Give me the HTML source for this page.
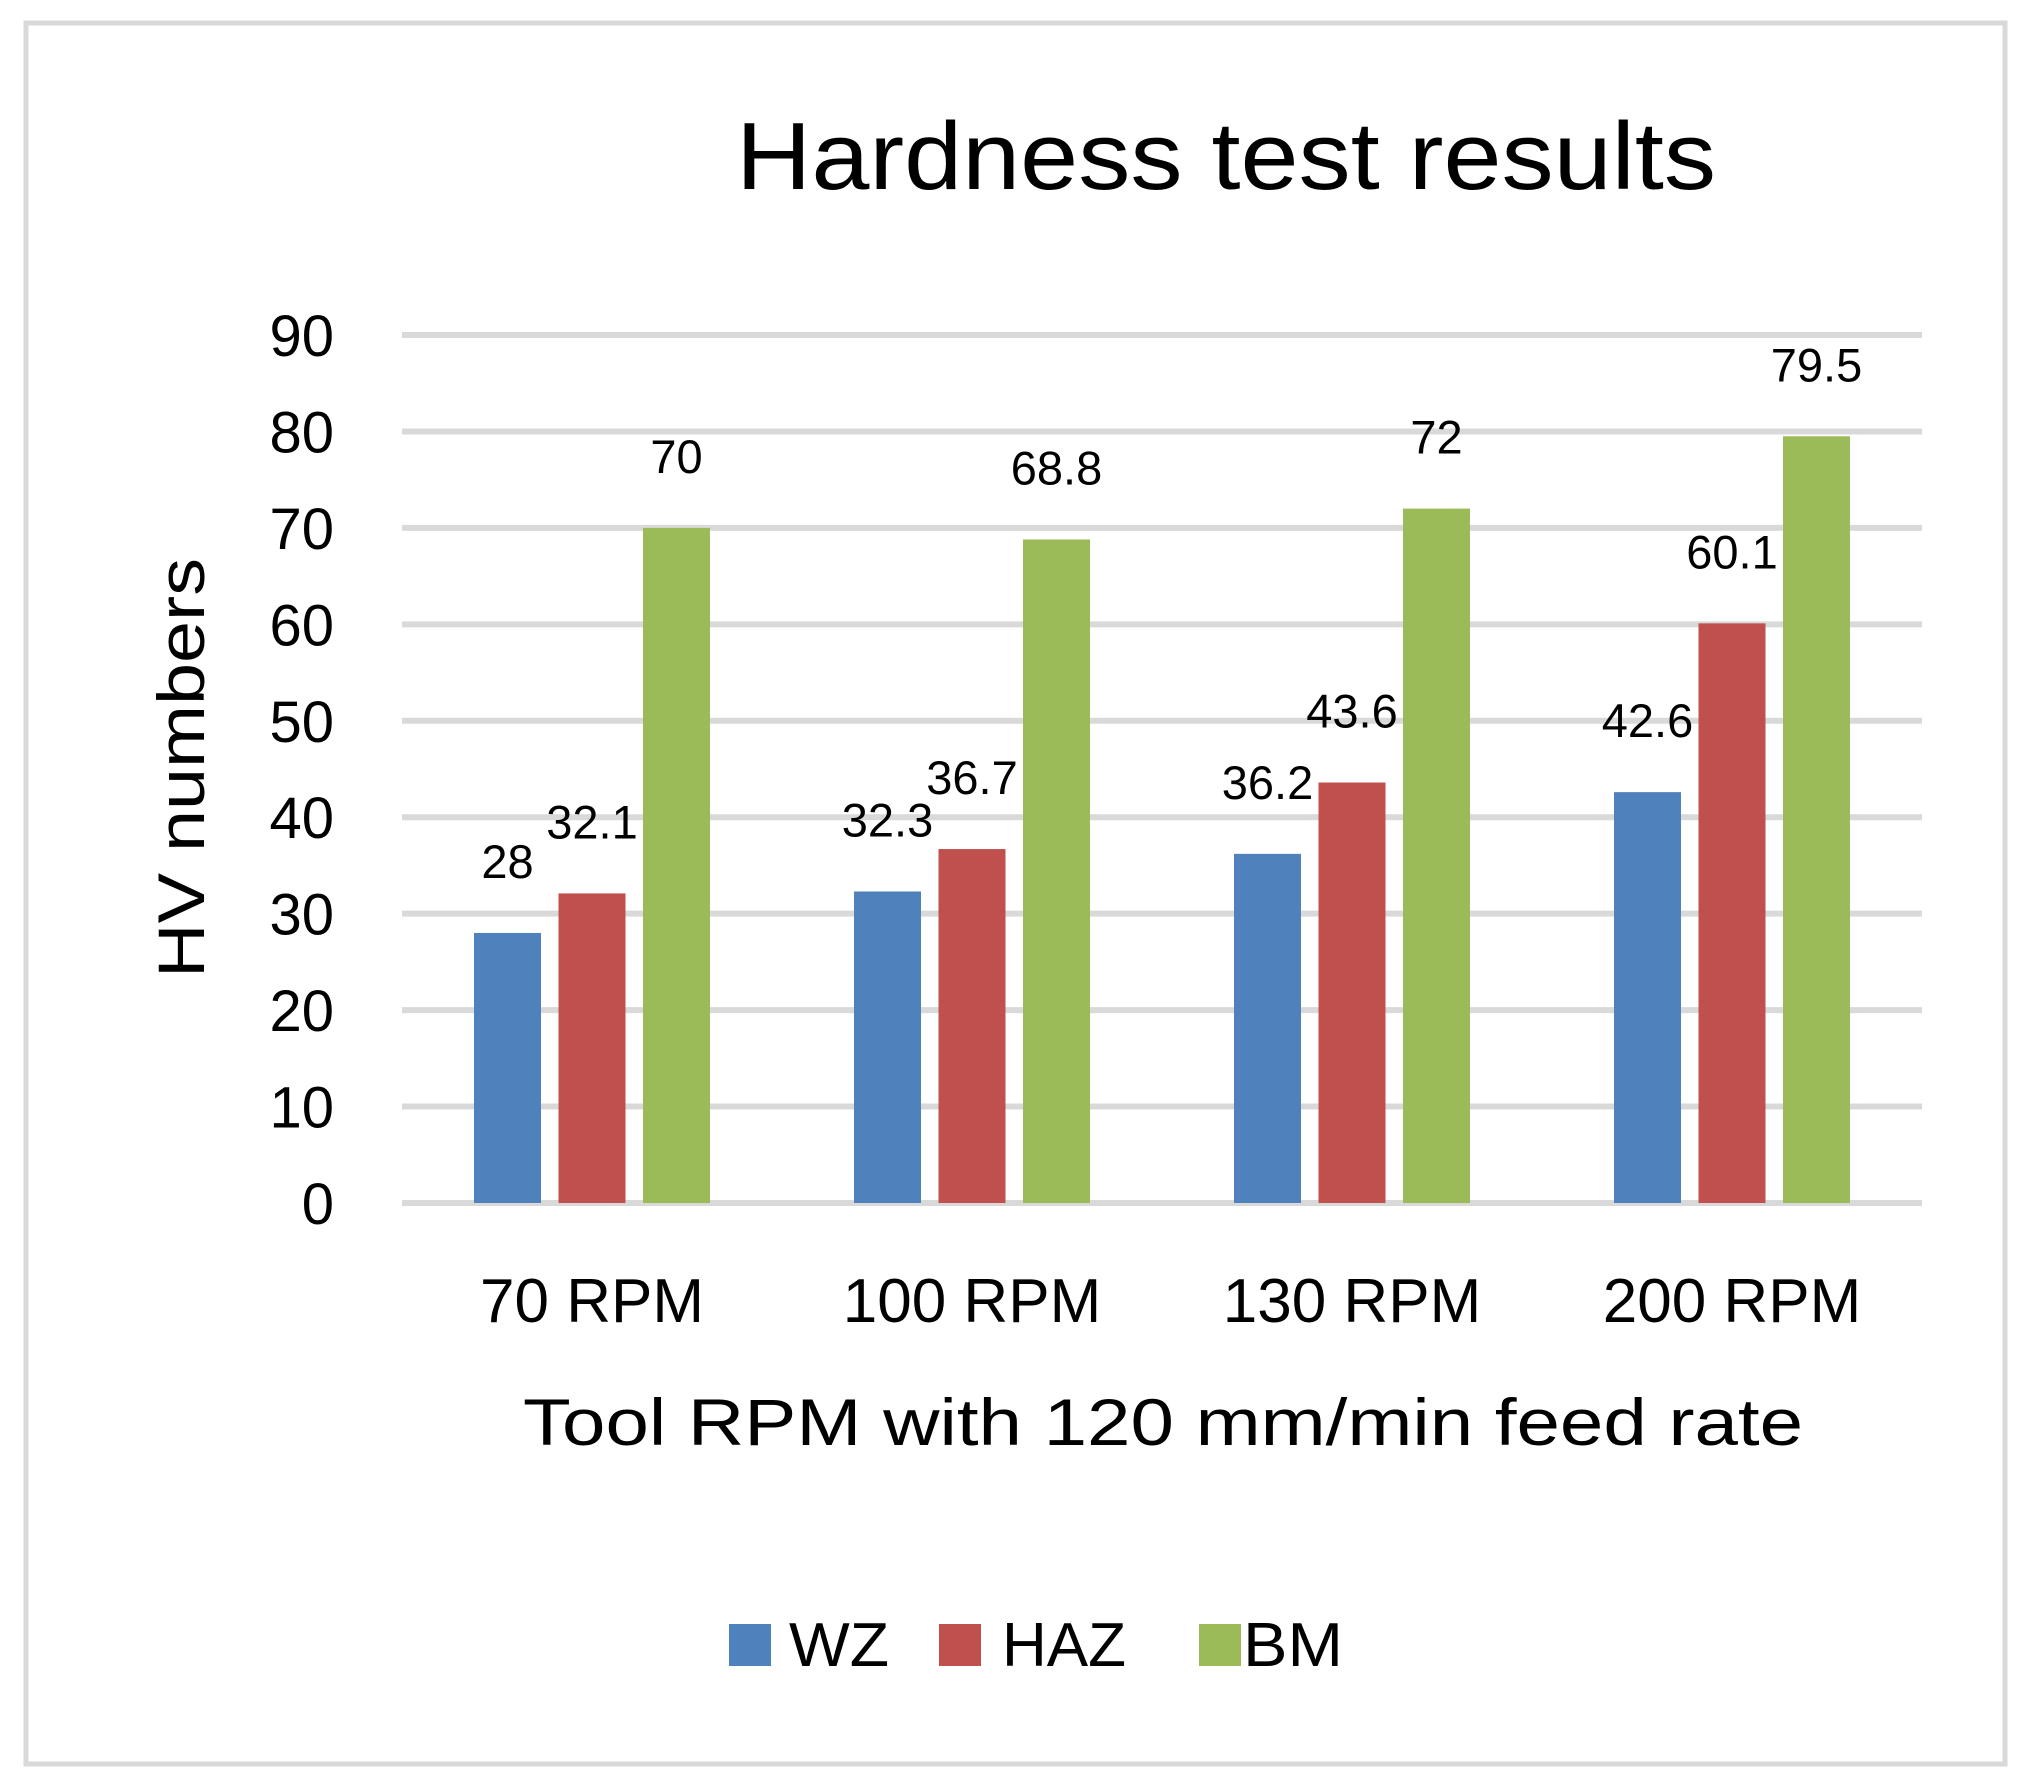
<!DOCTYPE html>
<html><head><meta charset="utf-8"><style>
html,body{margin:0;padding:0;background:#fff;}
svg{display:block;font-family:"Liberation Sans",sans-serif;}
</style></head><body>
<svg id="chart" width="2042" height="1787" viewBox="0 0 2042 1787">
<rect x="26" y="23" width="1979" height="1741" fill="#fff" stroke="#d9d9d9" stroke-width="5"/>
<text x="1226" y="189" font-size="96" text-anchor="middle" textLength="980" lengthAdjust="spacingAndGlyphs">Hardness test results</text>
<g id="grid"></g>
<g id="bars"></g>
<g id="labels"></g>
<text transform="translate(204,768) rotate(-90)" font-size="66" text-anchor="middle" textLength="420" lengthAdjust="spacingAndGlyphs">HV numbers</text>
<text x="1163" y="1445" font-size="66" text-anchor="middle" textLength="1280" lengthAdjust="spacingAndGlyphs">Tool RPM with 120 mm/min feed rate</text>
<g>
<rect x="729" y="1624" width="42" height="42" fill="#4f81bd"/>
<text x="789" y="1666" font-size="62" textLength="100" lengthAdjust="spacingAndGlyphs">WZ</text>
<rect x="939" y="1624" width="42" height="42" fill="#c0504d"/>
<text x="1002" y="1666" font-size="62" textLength="124" lengthAdjust="spacingAndGlyphs">HAZ</text>
<rect x="1199" y="1624" width="42" height="42" fill="#9bbb59"/>
<text x="1243" y="1666" font-size="62" textLength="100" lengthAdjust="spacingAndGlyphs">BM</text>
</g>
</svg>
<script>
const categories = ["70 RPM","100 RPM","130 RPM","200 RPM"];
const wz = [28, 32.3, 36.2, 42.6];
const haz = [32.1, 36.7, 43.6, 60.1];
const bm = [70, 68.8, 72, 79.5];
const yTicks = [0,10,20,30,40,50,60,70,80,90];

const NS = "http://www.w3.org/2000/svg";
const x0 = 402, x1 = 1922, yTop = 335, yBot = 1203, yMax = 90;
function yScale(v){ return yBot - (v / yMax) * (yBot - yTop); }
const groupW = (x1 - x0) / categories.length;
function groupCenter(i){ return x0 + groupW * (i + 0.5); }
function mk(tag, attrs){ const e = document.createElementNS(NS, tag); for (const k in attrs) e.setAttribute(k, attrs[k]); return e; }

const grid = document.getElementById("grid");
yTicks.forEach(t => {
  const y = yScale(t);
  const l = mk("line", {x1: x0, x2: x1, y1: y, y2: y, stroke: "#d9d9d9", "stroke-width": 6});
  
  
  grid.appendChild(l);
  const tx = mk("text", {x: 334, y: y + 21, "font-size": 58, "text-anchor": "end"});
  
  
  tx.textContent = t;
  grid.appendChild(tx);
});

const series = [{vals: wz, color: "#4f81bd", name: "wz"}, {vals: haz, color: "#c0504d", name: "haz"}, {vals: bm, color: "#9bbb59", name: "bm"}];
const bars = document.getElementById("bars"), labels = document.getElementById("labels");
const barW = 67, step = 84.5;
categories.forEach((c, i) => {
  const gc = groupCenter(i);
  series.forEach((s, j) => {
    const cx = gc + (j - 1) * step;
    const v = s.vals[i];
    const r = mk("rect", {x: cx - barW/2, y: yScale(v), width: barW, height: yBot - yScale(v), fill: s.color});
    
    
    bars.appendChild(r);
    const t = mk("text", {x: cx, y: yScale(v) - 55, "font-size": 47, "text-anchor": "middle"});
    
    
    t.textContent = v;
    labels.appendChild(t);
  });
  const ct = mk("text", {x: gc, y: 1322, "font-size": 62, "text-anchor": "middle"});
  
  
  ct.textContent = c;
  labels.appendChild(ct);
});
</script>
</body></html>
